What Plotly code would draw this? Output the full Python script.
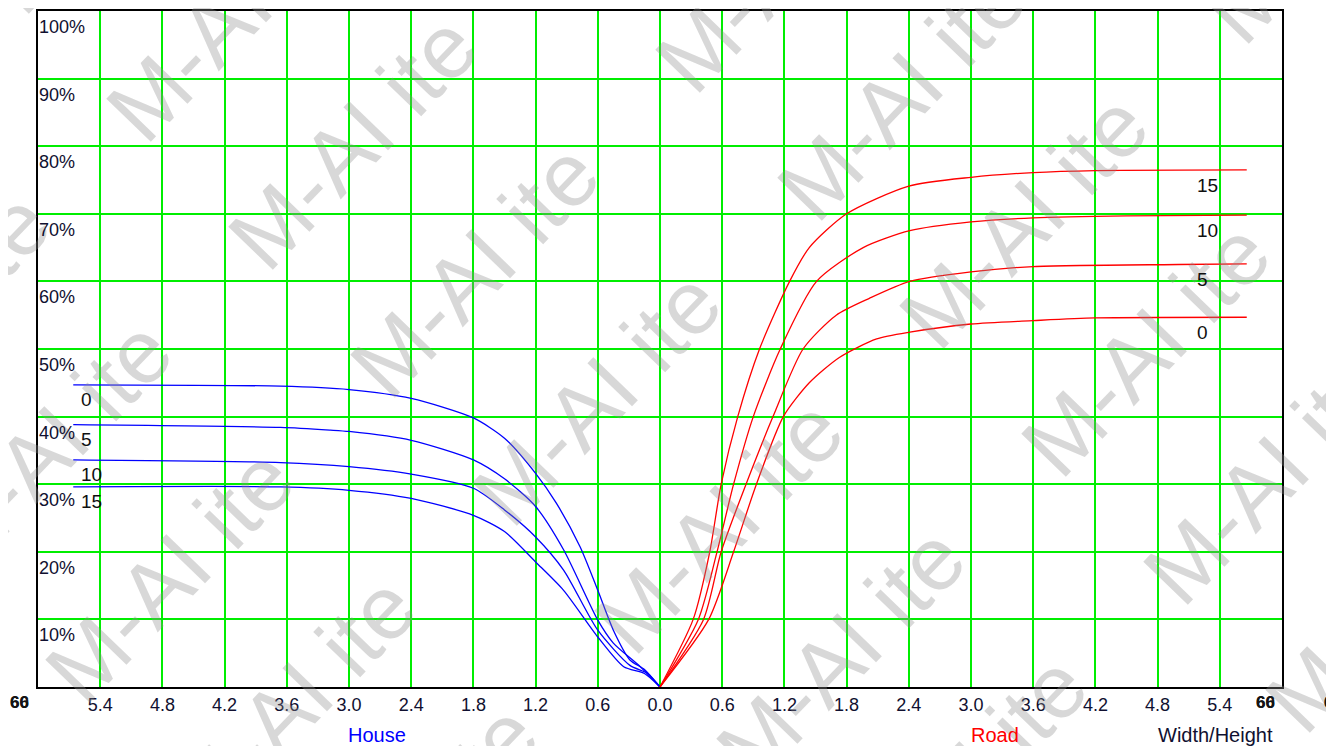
import plotly.graph_objects as go

# ---------------- data ----------------
series_names = ["0", "5", "10", "15"]

# House side (left, negative width/height)
house_x = {
    "0":  [-5.66, -3.66, -3.0, -2.4, -1.8, -1.5, -1.2, -1.0, -0.77, -0.6, -0.45, -0.29, -0.15, 0.0],
    "5":  [-5.66, -3.66, -3.18, -3.0, -2.4, -1.8, -1.5, -1.2, -0.93, -0.6, -0.45, -0.19, 0.0],
    "10": [-5.66, -3.66, -3.0, -2.4, -1.8, -1.5, -1.2, -0.93, -0.6, -0.29, -0.12, 0.0],
    "15": [-5.66, -3.66, -3.0, -2.4, -1.8, -1.5, -1.2, -0.93, -0.6, -0.35, -0.15, 0.0],
}
house_y = {
    "0":  [44.7, 44.5, 44.0, 42.7, 39.8, 36.8, 31.6, 27.2, 20.7, 14.3, 8.4, 4.0, 2.6, 0.0],
    "5":  [38.8, 38.4, 38.0, 37.8, 36.5, 33.6, 30.8, 26.7, 20.3, 9.9, 6.5, 3.0, 0.0],
    "10": [33.6, 33.2, 32.6, 31.5, 29.4, 26.2, 22.2, 17.3, 8.4, 3.2, 2.0, 0.0],
    "15": [29.6, 29.6, 29.1, 27.9, 25.4, 23.0, 18.5, 14.3, 7.4, 3.0, 2.0, 0.0],
}

# Road side (right, positive width/height)
road_x = {
    "15": [0.0, 0.32, 0.48, 0.59, 0.75, 0.96, 1.25, 1.44, 1.80, 2.40, 3.0, 3.6, 4.2, 5.66],
    "10": [0.0, 0.37, 0.55, 0.71, 0.90, 1.16, 1.51, 1.96, 2.41, 3.0, 3.6, 4.5, 5.66],
    "5":  [0.0, 0.42, 0.59, 0.83, 1.09, 1.38, 1.70, 2.02, 2.41, 3.0, 3.6, 5.0, 5.66],
    "0":  [0.0, 0.47, 0.71, 0.93, 1.19, 1.44, 1.73, 2.09, 2.41, 3.0, 3.6, 4.2, 5.66],
}
road_y = {
    "15": [0, 10, 20, 30, 40, 50, 60, 65, 70, 74.1, 75.4, 76.1, 76.4, 76.5],
    "10": [0, 10, 20, 30, 40, 50, 60, 65, 67.5, 68.8, 69.4, 69.7, 69.8],
    "5":  [0, 10, 20, 30, 40, 50, 55, 57.5, 60, 61.4, 62.2, 62.5, 62.6],
    "0":  [0, 10, 20, 30, 40, 45, 48.75, 51.5, 52.5, 53.7, 54.2, 54.6, 54.7],
}

x_tick_vals = [-5.4, -4.8, -4.2, -3.6, -3.0, -2.4, -1.8, -1.2, -0.6, 0.0,
               0.6, 1.2, 1.8, 2.4, 3.0, 3.6, 4.2, 4.8, 5.4]
x_tick_text = ["5.4", "4.8", "4.2", "3.6", "3.0", "2.4", "1.8", "1.2", "0.6", "0.0",
               "0.6", "1.2", "1.8", "2.4", "3.0", "3.6", "4.2", "4.8", "5.4"]
y_tick_vals = [10, 20, 30, 40, 50, 60, 70, 80, 90, 100]
y_tick_text = ["10%", "20%", "30%", "40%", "50%", "60%", "70%", "80%", "90%", "100%"]

# ---------------- figure ----------------
OFF = 8  # page body margin
W, H = 1334 - OFF, 746 - OFF
ML, MT = 38 - OFF, 11 - OFF
PW, PH = 1244, 676
MR, MB = W - ML - PW, H - MT - PH

fig = go.Figure()

line_style = dict(width=1.3, shape="spline", smoothing=0.7)
for name in series_names:
    fig.add_trace(go.Scatter(x=house_x[name], y=house_y[name], mode="lines",
                             line=dict(color="#0000ff", **line_style),
                             name="House " + name, showlegend=False, hoverinfo="skip"))
for name in series_names:
    fig.add_trace(go.Scatter(x=road_x[name], y=road_y[name], mode="lines",
                             line=dict(color="#ff0000", **line_style),
                             name="Road " + name, showlegend=False, hoverinfo="skip"))

annotations = []
FONT = "Liberation Sans, Arial, sans-serif"


def px_to_paper(px, py):
    return (px - OFF - ML) / PW, (MT + PH - (py - OFF)) / PH


# watermark lattice (decorative), page pixel centres
for k in range(-4, 7):
    for m in range(-4, 7):
        cx = 170 + 122 * k + 305 * m
        cy = 575 + 128 * k - 305 * m
        if -250 < cx < 1334 + 250 and -250 < cy < 746 + 250:
            xp, yp = px_to_paper(cx, cy)
            annotations.append(dict(
                x=xp, y=yp, xref="paper", yref="paper",
                text="M-AI ite", showarrow=False, textangle=-46,
                font=dict(family=FONT, size=90, color="rgba(140,140,140,0.34)"),
                xanchor="center", yanchor="middle"))

# y labels inside the plot, just below each gridline
for v, t in zip(y_tick_vals, y_tick_text):
    annotations.append(dict(x=0, y=v, xref="paper", yref="y", text=t, showarrow=False,
                            xanchor="left", yanchor="top", xshift=-1, yshift=-4,
                            font=dict(family=FONT, size=18, color="#101030")))

# series labels
for name in series_names:
    annotations.append(dict(x=road_x[name][-1] - 0.5, y=road_y[name][-1] - 2.3,
                            text=name, showarrow=False, xanchor="left", yanchor="middle",
                            font=dict(family=FONT, size=19, color="#101010")))
    annotations.append(dict(x=house_x[name][0] + 0.06, y=house_y[name][0] - 2.2,
                            text=name, showarrow=False, xanchor="left", yanchor="middle",
                            font=dict(family=FONT, size=19, color="#101010")))

# bottom titles
for t, xv, c in [("House", -2.73, "#0000ff"), ("Road", 3.23, "#ff0000"),
                 ("Width/Height", 5.36, "#101030")]:
    annotations.append(dict(x=xv, y=-0.071, xref="x", yref="paper", text=t,
                            showarrow=False, xanchor="center", yanchor="middle",
                            font=dict(family=FONT, size=20, color=c)))

# overprinted edge labels
for px in [19, 1265, 1333]:
    for t in ["60", "66"]:
        xp, yp = px_to_paper(px, 703)
        annotations.append(dict(x=xp, y=yp, xref="paper", yref="paper", text="<b>" + t + "</b>",
                                showarrow=False, xanchor="center", yanchor="middle",
                                font=dict(family=FONT, size=17, color="#151515")))

fig.update_layout(
    width=W, height=H,
    margin=dict(l=ML, r=MR, t=MT, b=MB, pad=0, autoexpand=False),
    paper_bgcolor="white", plot_bgcolor="white",
    showlegend=False,
    annotations=annotations,
    xaxis=dict(range=[-6, 6], tickmode="array", tickvals=x_tick_vals, ticktext=x_tick_text,
               showgrid=True, gridcolor="#00ee00", gridwidth=2, zeroline=False,
               showline=True, linecolor="#000000", linewidth=2, mirror=True,
               ticks="", automargin=False,
               tickfont=dict(family=FONT, size=18, color="#101030")),
    yaxis=dict(range=[0, 100], tickmode="array", tickvals=y_tick_vals, showticklabels=False,
               showgrid=True, gridcolor="#00ee00", gridwidth=2, zeroline=False,
               showline=True, linecolor="#000000", linewidth=2, mirror=True,
               automargin=False),
)

fig.write_html("out.html")
